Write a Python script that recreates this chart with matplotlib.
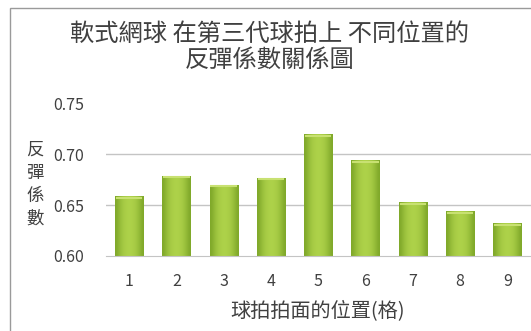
import numpy as np
import matplotlib
matplotlib.use('Agg')
import matplotlib.pyplot as plt
from matplotlib.patches import Rectangle

plt.rcParams['font.family'] = ['Noto Sans CJK TC', 'DejaVu Sans']

# Coefficient of restitution at each racket face position
positions = [1, 2, 3, 4, 5, 6, 7, 8, 9]
restitution = [0.659, 0.679, 0.670, 0.677, 0.720, 0.694, 0.653, 0.644, 0.632]
y_ticks = [0.60, 0.65, 0.70, 0.75]

title = '軟式網球 在第三代球拍上 不同位置的\n反彈係數關係圖'
x_label = '球拍拍面的位置(格)'
y_label = '反\n彈\n係\n數'

fig = plt.figure(figsize=(5.31, 3.31), dpi=100)
fig.patch.set_facecolor('white')

# chart frame
fig.patches.append(Rectangle((9.5 / 531, -0.1), 1.1, 1.1 - 8 / 331,
                             transform=fig.transFigure, fill=False,
                             edgecolor='#9a9a9a', linewidth=1.0))

ax = fig.add_axes([105.5 / 531, 1 - 256 / 331, 1 - 105.5 / 531, (256 - 103.5) / 331])

bars = ax.bar(positions, [v - 0.60 for v in restitution], bottom=0.60, width=0.6,
              color='#9cc63c', edgecolor='none', zorder=3)

# horizontal shading on each bar
grad = np.array([[0.0, 0.35, 0.65, 0.85, 0.95, 1.0, 0.95, 0.85, 0.65, 0.35, 0.0]])
cmap = matplotlib.colors.LinearSegmentedColormap.from_list('g', ['#80a92a', '#aed24a'])
for b in bars:
    x0, y0 = b.get_x(), b.get_y()
    im = ax.imshow(grad, cmap=cmap, aspect='auto', interpolation='bicubic',
                   extent=[x0, x0 + b.get_width(), y0, y0 + b.get_height()], zorder=4)
    im.set_clip_path(b)
    # lighter cap at the top
    ax.plot([x0 + 0.02, x0 + b.get_width() - 0.02], [y0 + b.get_height() - 0.0015] * 2,
            color='#c8e172', linewidth=1.5, zorder=5, solid_capstyle='butt')

ax.set_xlim(0.5, 9.5)
ax.set_ylim(0.60, 0.75)
ax.set_yticks(y_ticks)
ax.set_yticklabels(['%.2f' % t for t in y_ticks])
ax.set_xticks(positions)
ax.set_xticklabels([str(p) for p in positions])

for g in [0.65, 0.70]:
    ax.axhline(g, color='#c4c4c4', linewidth=1.0, zorder=1)
for s in ['top', 'right', 'left']:
    ax.spines[s].set_visible(False)
ax.spines['bottom'].set_color('#c4c4c4')
ax.spines['bottom'].set_zorder(6)

ax.tick_params(axis='both', length=0, colors='#404040', labelsize=11.5)
ax.tick_params(axis='y', pad=15.5)
ax.tick_params(axis='x', pad=12.5)

ax.set_xlabel(x_label, fontsize=14.5, color='#404040')
ax.xaxis.set_label_coords((318 - 105.5) / (531 - 105.5), -0.29)

fig.text(35 / 531, 1 - 184 / 331, y_label, fontsize=12.5, color='#404040',
         ha='center', va='center', linespacing=1.35)

fig.text(270 / 531, 1 - 47 / 331, title, fontsize=17.5, color='#404040',
         ha='center', va='center', linespacing=1.0)

fig.savefig('out.png', dpi=100, facecolor='white')
